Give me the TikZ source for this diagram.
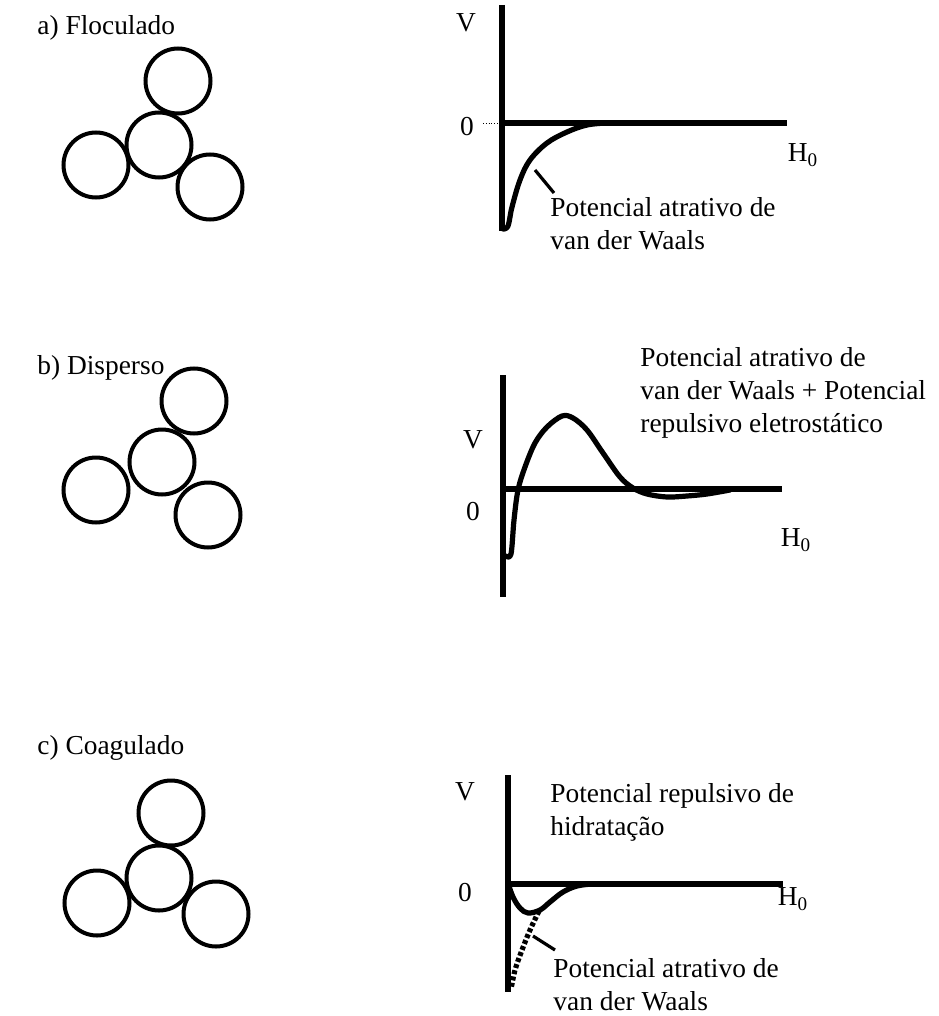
\documentclass[tikz,border=0pt]{standalone}
\usepackage{fontspec}
\setmainfont{Liberation Serif}
\usetikzlibrary{positioning}

\begin{document}
\begin{tikzpicture}[x=0.5pt, y=-0.5pt,
  particle/.style={circle, draw, line width=2pt, minimum size=32.5pt, inner sep=0pt},
  axis/.style={line width=2.6pt},
  curve/.style={line width=2.6pt, line join=round, line cap=round},
  vdw/.style={line width=2.6pt, dash pattern=on 2pt off 1.2pt},
  leader/.style={line width=1.6pt},
  txt/.style={font=\fontsize{13.7}{16.5}\selectfont, inner sep=0pt},
  note/.style={txt, align=left, anchor=north west},
]
\useasboundingbox (0,0) rectangle (938,1016);

% a) flocculated
\node[txt, anchor=west] (la) at (37,28) {a) Floculado};
\node[particle] (a0) at (159,145) {};
\node[particle] (a1) at (178,81) {};
\node[particle] (a2) at (96,165) {};
\node[particle] (a3) at (210,187) {};

\coordinate (ao) at (502,123);
\draw[axis] (502,5) -- (502,231);
\draw[axis] (ao) -- (787,123);
\draw[densely dotted, thin] (483,123) -- (ao);
\node[txt] (va) at (466,23) {V};
\node[txt] (za) at (467,127) {0};
\node[txt] (ha) at (803,155) {H\textsubscript{0}};
\draw[curve] plot[smooth, tension=0.6] coordinates {(503,229) (508,226) (512,207)
  (520,180) (530,160) (547,143) (567,132) (587,125) (607,123)};
\node[note] (ta) at (550,197) {Potencial atrativo de\\van der Waals};
\coordinate (pa) at (535,170);
\draw[leader] (pa) -- ([xshift=2pt, yshift=2pt]ta.north west);

% b) dispersed
\node[txt, anchor=west] (lb) at (37,368) {b) Disperso};
\node[particle] (b0) at (162,462) {};
\node[particle] (b1) at (194,401) {};
\node[particle] (b2) at (96,490) {};
\node[particle] (b3) at (208,515) {};

\coordinate (bo) at (503,489);
\draw[axis] (503,375) -- (503,597);
\draw[axis] (bo) -- (782,489);
\node[txt] (vb) at (473,440) {V};
\node[txt] (zb) at (473,512) {0};
\node[txt] (hb) at (796,540) {H\textsubscript{0}};
\draw[curve] plot[smooth, tension=0.55] coordinates {(506,556) (511,554) (514,520)
  (518,490) (525,467) (535,443) (547,427) (562,416) (573,418) (587,430) (603,453)
  (620,477) (633,488) (647,494) (667,497) (687,496) (707,494) (730,490)};
\node[note] (tb) at (640,347) {Potencial atrativo de\\van der Waals + Potencial\\repulsivo eletrostático};

% c) coagulated
\node[txt, anchor=west] (lc) at (37,748) {c) Coagulado};
\node[particle] (c0) at (159,878) {};
\node[particle] (c1) at (171,813) {};
\node[particle] (c2) at (97,903) {};
\node[particle] (c3) at (216,914) {};

\coordinate (co) at (508,884);
\draw[axis] (508,775) -- (508,992);
\draw[axis] (co) -- (783,884);
\node[txt] (vc) at (465,792) {V};
\node[txt] (zc) at (465,893) {0};
\node[txt] (hc) at (793,899) {H\textsubscript{0}};
\draw[curve] plot[smooth, tension=0.6] coordinates {(508,883) (513,897) (520,908)
  (528,913) (540,910) (550,902) (563,892) (577,886) (592,884)};
\draw[vdw] plot[smooth] coordinates {(539,911) (530,930) (522,950) (515,970) (511,989)};
\node[note] (tc) at (550,783) {Potencial repulsivo de\\hidratação};
\node[note] (td) at (553,958) {Potencial atrativo de\\van der Waals};
\coordinate (pc) at (533,936);
\draw[leader] (pc) -- ([xshift=1pt, yshift=4pt]td.north west);
\end{tikzpicture}
\end{document}
